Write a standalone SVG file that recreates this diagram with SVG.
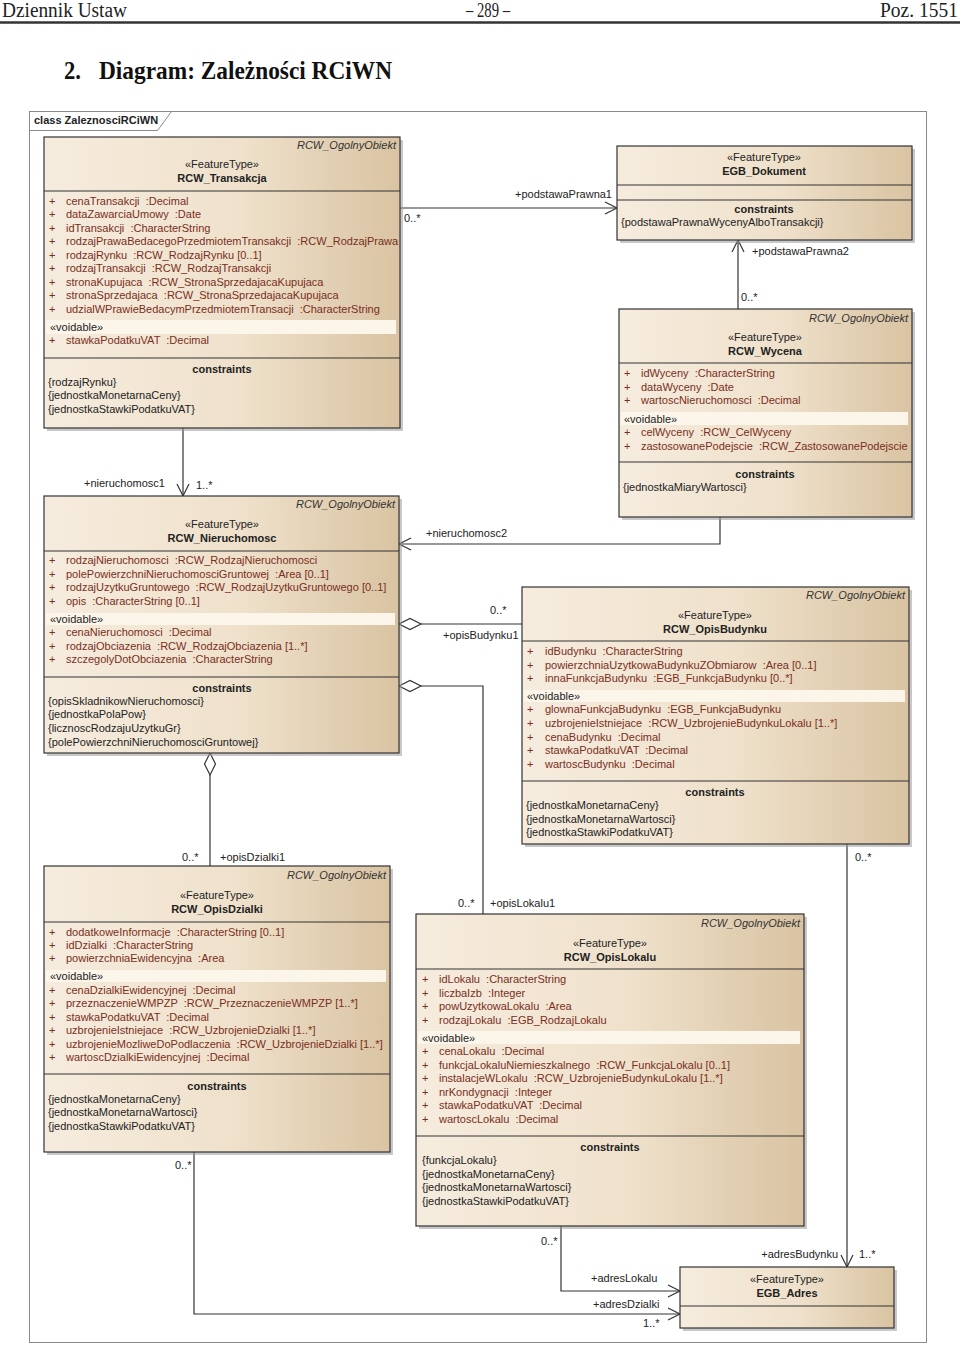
<svg xmlns="http://www.w3.org/2000/svg" width="960" height="1347" viewBox="0 0 960 1347">
<defs>
<linearGradient id="fill" x1="0" y1="0" x2="1" y2="0">
<stop offset="0" stop-color="#F6ECDE"/>
<stop offset="0.55" stop-color="#EFE1CB"/>
<stop offset="1" stop-color="#D9C3A2"/>
</linearGradient>
<style>
text{font-family:"Liberation Sans",Arial,sans-serif;font-size:11px;fill:#222;white-space:pre}
.a{fill:#7a2e22}
.b{font-weight:bold;text-anchor:middle}
.m{text-anchor:middle}
.i{font-style:italic;text-anchor:end;fill:#333}
.hd{font-family:"Liberation Serif","Times New Roman",serif;font-size:20px;fill:#222}
.tt{font-family:"Liberation Serif","Times New Roman",serif;font-size:26px;font-weight:bold;fill:#111}
.box{fill:url(#fill);stroke:#333;stroke-width:1.2}
.sh{fill:#9a9a9a;opacity:.55}
.sep{stroke:#333;stroke-width:1.2}
.vb{fill:#FBF5EA}
.ln{fill:none;stroke:#333;stroke-width:1.2}
.dia{fill:#fff;stroke:#333;stroke-width:1.2}
.fr{fill:none;stroke:#8a8a8a;stroke-width:1}
</style>
</defs>
<rect width="960" height="1347" fill="#fff"/>
<!-- page header -->
<g id="page-header">
<text class="hd" x="2" y="17" textLength="125" lengthAdjust="spacingAndGlyphs">Dziennik Ustaw</text>
<text class="hd" x="466" y="17" textLength="44" lengthAdjust="spacingAndGlyphs">– 289 –</text>
<text class="hd" x="880" y="17" textLength="78" lengthAdjust="spacingAndGlyphs">Poz. 1551</text>
<line x1="0" y1="22.5" x2="960" y2="22.5" stroke="#333" stroke-width="2.5"/>
<text class="tt" x="64" y="79" textLength="17" lengthAdjust="spacingAndGlyphs">2.</text>
<text class="tt" x="99" y="79" textLength="293" lengthAdjust="spacingAndGlyphs">Diagram: Zależności RCiWN</text>
</g>
<!-- frame -->
<g id="frame">
<rect class="fr" x="29.5" y="111.5" width="897" height="1231"/>
<polyline class="fr" points="29.5,130.5 157.5,130.5 171.5,111.5"/>
<text x="34" y="124" font-weight="bold">class ZaleznosciRCiWN</text>
</g>
<!-- connectors -->
<g id="connectors">
<line class="ln" x1="400" y1="208" x2="617" y2="208"/>
<polyline class="ln" points="605,202 617,208 605,214"/>
<text x="612" y="198" text-anchor="end">+podstawaPrawna1</text>
<text x="404" y="222">0..*</text>

<line class="ln" x1="738" y1="309" x2="738" y2="240"/>
<polyline class="ln" points="732,252 738,240 744,252"/>
<text x="752" y="255">+podstawaPrawna2</text>
<text x="741" y="301">0..*</text>

<line class="ln" x1="183" y1="428" x2="183" y2="496"/>
<polyline class="ln" points="177,484 183,496 189,484"/>
<text x="165" y="487" text-anchor="end">+nieruchomosc1</text>
<text x="196" y="489">1..*</text>

<polyline class="ln" points="720,517 720,544 399,544"/>
<polyline class="ln" points="411,538 399,544 411,550"/>
<text x="426" y="537">+nieruchomosc2</text>

<line class="ln" x1="421" y1="624" x2="522" y2="624"/>
<polygon class="dia" points="399,624 410,618.5 421,624 410,629.5"/>
<text x="490" y="614">0..*</text>
<text x="443" y="639">+opisBudynku1</text>

<polyline class="ln" points="421,686 483,686 483,914"/>
<polygon class="dia" points="399,686 410,680.5 421,686 410,691.5"/>
<text x="458" y="907">0..*</text>
<text x="490" y="907">+opisLokalu1</text>

<line class="ln" x1="210" y1="775" x2="210" y2="866"/>
<polygon class="dia" points="210,753 215.5,764 210,775 204.5,764"/>
<text x="182" y="861">0..*</text>
<text x="220" y="861">+opisDzialki1</text>

<polyline class="ln" points="194,1152 194,1314 680,1314"/>
<polyline class="ln" points="668,1308 680,1314 668,1320"/>
<text x="175" y="1169">0..*</text>
<text x="593" y="1308">+adresDzialki</text>
<text x="643" y="1327">1..*</text>

<polyline class="ln" points="561,1226 561,1291 680,1291"/>
<polyline class="ln" points="668,1285 680,1291 668,1297"/>
<text x="541" y="1245">0..*</text>
<text x="591" y="1282">+adresLokalu</text>

<line class="ln" x1="847" y1="844" x2="847" y2="1267"/>
<polyline class="ln" points="841,1255 847,1267 853,1255"/>
<text x="855" y="861">0..*</text>
<text x="838" y="1258" text-anchor="end">+adresBudynku</text>
<text x="859" y="1258">1..*</text>
</g>

<!-- RCW_Transakcja -->
<g id="RCW_Transakcja">
<rect class="sh" x="47" y="140" width="356" height="291"/>
<rect class="box" x="44" y="137" width="356" height="291"/>
<text class="i" x="396" y="149">RCW_OgolnyObiekt</text>
<text class="m" x="222" y="168">«FeatureType»</text>
<text class="b" x="222" y="182">RCW_Transakcja</text>
<line class="sep" x1="44" y1="191" x2="400" y2="191"/>
<text class="a" y="205"><tspan x="49">+</tspan><tspan x="66">cenaTransakcji  :Decimal</tspan></text>
<text class="a" y="218"><tspan x="49">+</tspan><tspan x="66">dataZawarciaUmowy  :Date</tspan></text>
<text class="a" y="232"><tspan x="49">+</tspan><tspan x="66">idTransakcji  :CharacterString</tspan></text>
<text class="a" y="245"><tspan x="49">+</tspan><tspan x="66">rodzajPrawaBedacegoPrzedmiotemTransakcji  :RCW_RodzajPrawa</tspan></text>
<text class="a" y="259"><tspan x="49">+</tspan><tspan x="66">rodzajRynku  :RCW_RodzajRynku [0..1]</tspan></text>
<text class="a" y="272"><tspan x="49">+</tspan><tspan x="66">rodzajTransakcji  :RCW_RodzajTransakcji</tspan></text>
<text class="a" y="286"><tspan x="49">+</tspan><tspan x="66">stronaKupujaca  :RCW_StronaSprzedajacaKupujaca</tspan></text>
<text class="a" y="299"><tspan x="49">+</tspan><tspan x="66">stronaSprzedajaca  :RCW_StronaSprzedajacaKupujaca</tspan></text>
<text class="a" y="313"><tspan x="49">+</tspan><tspan x="66">udzialWPrawieBedacymPrzedmiotemTransacji  :CharacterString</tspan></text>
<rect class="vb" x="46" y="320" width="350" height="14"/>
<text x="50" y="331">«voidable»</text>
<text class="a" y="344"><tspan x="49">+</tspan><tspan x="66">stawkaPodatkuVAT  :Decimal</tspan></text>
<line class="sep" x1="44" y1="358" x2="400" y2="358"/>
<text class="b" x="222" y="373">constraints</text>
<text x="48" y="386">{rodzajRynku}</text>
<text x="48" y="399">{jednostkaMonetarnaCeny}</text>
<text x="48" y="413">{jednostkaStawkiPodatkuVAT}</text>
</g>

<!-- EGB_Dokument -->
<g id="EGB_Dokument">
<rect class="sh" x="620" y="149" width="295" height="94"/>
<rect class="box" x="617" y="146" width="295" height="94"/>
<text class="m" x="764" y="161">«FeatureType»</text>
<text class="b" x="764" y="175">EGB_Dokument</text>
<line class="sep" x1="617" y1="185" x2="912" y2="185"/>
<line class="sep" x1="617" y1="200" x2="912" y2="200"/>
<text class="b" x="764" y="213">constraints</text>
<text x="621" y="226">{podstawaPrawnaWycenyAlboTransakcji}</text>
</g>

<!-- RCW_Wycena -->
<g id="RCW_Wycena">
<rect class="sh" x="622" y="312" width="293" height="208"/>
<rect class="box" x="619" y="309" width="293" height="208"/>
<text class="i" x="908" y="322">RCW_OgolnyObiekt</text>
<text class="m" x="765" y="341">«FeatureType»</text>
<text class="b" x="765" y="355">RCW_Wycena</text>
<line class="sep" x1="619" y1="363" x2="912" y2="363"/>
<text class="a" y="377"><tspan x="624">+</tspan><tspan x="641">idWyceny  :CharacterString</tspan></text>
<text class="a" y="391"><tspan x="624">+</tspan><tspan x="641">dataWyceny  :Date</tspan></text>
<text class="a" y="404"><tspan x="624">+</tspan><tspan x="641">wartoscNieruchomosci  :Decimal</tspan></text>
<rect class="vb" x="621" y="412" width="287" height="13"/>
<text x="624" y="423">«voidable»</text>
<text class="a" y="436"><tspan x="624">+</tspan><tspan x="641">celWyceny  :RCW_CelWyceny</tspan></text>
<text class="a" y="450"><tspan x="624">+</tspan><tspan x="641">zastosowanePodejscie  :RCW_ZastosowanePodejscie</tspan></text>
<line class="sep" x1="619" y1="462" x2="912" y2="462"/>
<text class="b" x="765" y="478">constraints</text>
<text x="623" y="491">{jednostkaMiaryWartosci}</text>
</g>

<!-- RCW_Nieruchomosc -->
<g id="RCW_Nieruchomosc">
<rect class="sh" x="47" y="499" width="355" height="257"/>
<rect class="box" x="44" y="496" width="355" height="257"/>
<text class="i" x="395" y="508">RCW_OgolnyObiekt</text>
<text class="m" x="222" y="528">«FeatureType»</text>
<text class="b" x="222" y="542">RCW_Nieruchomosc</text>
<line class="sep" x1="44" y1="551" x2="399" y2="551"/>
<text class="a" y="564"><tspan x="49">+</tspan><tspan x="66">rodzajNieruchomosci  :RCW_RodzajNieruchomosci</tspan></text>
<text class="a" y="578"><tspan x="49">+</tspan><tspan x="66">polePowierzchniNieruchomosciGruntowej  :Area [0..1]</tspan></text>
<text class="a" y="591"><tspan x="49">+</tspan><tspan x="66">rodzajUzytkuGruntowego  :RCW_RodzajUzytkuGruntowego [0..1]</tspan></text>
<text class="a" y="605"><tspan x="49">+</tspan><tspan x="66">opis  :CharacterString [0..1]</tspan></text>
<rect class="vb" x="46" y="613" width="349" height="12"/>
<text x="50" y="623">«voidable»</text>
<text class="a" y="636"><tspan x="49">+</tspan><tspan x="66">cenaNieruchomosci  :Decimal</tspan></text>
<text class="a" y="650"><tspan x="49">+</tspan><tspan x="66">rodzajObciazenia  :RCW_RodzajObciazenia [1..*]</tspan></text>
<text class="a" y="663"><tspan x="49">+</tspan><tspan x="66">szczegolyDotObciazenia  :CharacterString</tspan></text>
<line class="sep" x1="44" y1="677" x2="399" y2="677"/>
<text class="b" x="222" y="692">constraints</text>
<text x="48" y="705">{opisSkladnikowNieruchomosci}</text>
<text x="48" y="718">{jednostkaPolaPow}</text>
<text x="48" y="732">{licznoscRodzajuUzytkuGr}</text>
<text x="48" y="746">{polePowierzchniNieruchomosciGruntowej}</text>
</g>

<!-- RCW_OpisBudynku -->
<g id="RCW_OpisBudynku">
<rect class="sh" x="525" y="590" width="387" height="257"/>
<rect class="box" x="522" y="587" width="387" height="257"/>
<text class="i" x="905" y="599">RCW_OgolnyObiekt</text>
<text class="m" x="715" y="619">«FeatureType»</text>
<text class="b" x="715" y="633">RCW_OpisBudynku</text>
<line class="sep" x1="522" y1="641" x2="909" y2="641"/>
<text class="a" y="655"><tspan x="527">+</tspan><tspan x="545">idBudynku  :CharacterString</tspan></text>
<text class="a" y="669"><tspan x="527">+</tspan><tspan x="545">powierzchniaUzytkowaBudynkuZObmiarow  :Area [0..1]</tspan></text>
<text class="a" y="682"><tspan x="527">+</tspan><tspan x="545">innaFunkcjaBudynku  :EGB_FunkcjaBudynku [0..*]</tspan></text>
<rect class="vb" x="524" y="690" width="381" height="12"/>
<text x="527" y="700">«voidable»</text>
<text class="a" y="713"><tspan x="527">+</tspan><tspan x="545">glownaFunkcjaBudynku  :EGB_FunkcjaBudynku</tspan></text>
<text class="a" y="727"><tspan x="527">+</tspan><tspan x="545">uzbrojenieIstniejace  :RCW_UzbrojenieBudynkuLokalu [1..*]</tspan></text>
<text class="a" y="741"><tspan x="527">+</tspan><tspan x="545">cenaBudynku  :Decimal</tspan></text>
<text class="a" y="754"><tspan x="527">+</tspan><tspan x="545">stawkaPodatkuVAT  :Decimal</tspan></text>
<text class="a" y="768"><tspan x="527">+</tspan><tspan x="545">wartoscBudynku  :Decimal</tspan></text>
<line class="sep" x1="522" y1="781" x2="909" y2="781"/>
<text class="b" x="715" y="796">constraints</text>
<text x="526" y="809">{jednostkaMonetarnaCeny}</text>
<text x="526" y="823">{jednostkaMonetarnaWartosci}</text>
<text x="526" y="836">{jednostkaStawkiPodatkuVAT}</text>
</g>

<!-- RCW_OpisDzialki -->
<g id="RCW_OpisDzialki">
<rect class="sh" x="47" y="869" width="346" height="286"/>
<rect class="box" x="44" y="866" width="346" height="286"/>
<text class="i" x="386" y="879">RCW_OgolnyObiekt</text>
<text class="m" x="217" y="899">«FeatureType»</text>
<text class="b" x="217" y="913">RCW_OpisDzialki</text>
<line class="sep" x1="44" y1="922" x2="390" y2="922"/>
<text class="a" y="936"><tspan x="49">+</tspan><tspan x="66">dodatkoweInformacje  :CharacterString [0..1]</tspan></text>
<text class="a" y="949"><tspan x="49">+</tspan><tspan x="66">idDzialki  :CharacterString</tspan></text>
<text class="a" y="962"><tspan x="49">+</tspan><tspan x="66">powierzchniaEwidencyjna  :Area</tspan></text>
<rect class="vb" x="46" y="970" width="340" height="12"/>
<text x="50" y="980">«voidable»</text>
<text class="a" y="994"><tspan x="49">+</tspan><tspan x="66">cenaDzialkiEwidencyjnej  :Decimal</tspan></text>
<text class="a" y="1007"><tspan x="49">+</tspan><tspan x="66">przeznaczenieWMPZP  :RCW_PrzeznaczenieWMPZP [1..*]</tspan></text>
<text class="a" y="1021"><tspan x="49">+</tspan><tspan x="66">stawkaPodatkuVAT  :Decimal</tspan></text>
<text class="a" y="1034"><tspan x="49">+</tspan><tspan x="66">uzbrojenieIstniejace  :RCW_UzbrojenieDzialki [1..*]</tspan></text>
<text class="a" y="1048"><tspan x="49">+</tspan><tspan x="66">uzbrojenieMozliweDoPodlaczenia  :RCW_UzbrojenieDzialki [1..*]</tspan></text>
<text class="a" y="1061"><tspan x="49">+</tspan><tspan x="66">wartoscDzialkiEwidencyjnej  :Decimal</tspan></text>
<line class="sep" x1="44" y1="1074" x2="390" y2="1074"/>
<text class="b" x="217" y="1090">constraints</text>
<text x="48" y="1103">{jednostkaMonetarnaCeny}</text>
<text x="48" y="1116">{jednostkaMonetarnaWartosci}</text>
<text x="48" y="1130">{jednostkaStawkiPodatkuVAT}</text>
</g>

<!-- RCW_OpisLokalu -->
<g id="RCW_OpisLokalu">
<rect class="sh" x="419" y="917" width="388" height="312"/>
<rect class="box" x="416" y="914" width="388" height="312"/>
<text class="i" x="800" y="927">RCW_OgolnyObiekt</text>
<text class="m" x="610" y="947">«FeatureType»</text>
<text class="b" x="610" y="961">RCW_OpisLokalu</text>
<line class="sep" x1="416" y1="969" x2="804" y2="969"/>
<text class="a" y="983"><tspan x="422">+</tspan><tspan x="439">idLokalu  :CharacterString</tspan></text>
<text class="a" y="997"><tspan x="422">+</tspan><tspan x="439">liczbaIzb  :Integer</tspan></text>
<text class="a" y="1010"><tspan x="422">+</tspan><tspan x="439">powUzytkowaLokalu  :Area</tspan></text>
<text class="a" y="1024"><tspan x="422">+</tspan><tspan x="439">rodzajLokalu  :EGB_RodzajLokalu</tspan></text>
<rect class="vb" x="418" y="1031" width="382" height="13"/>
<text x="422" y="1042">«voidable»</text>
<text class="a" y="1055"><tspan x="422">+</tspan><tspan x="439">cenaLokalu  :Decimal</tspan></text>
<text class="a" y="1069"><tspan x="422">+</tspan><tspan x="439">funkcjaLokaluNiemieszkalnego  :RCW_FunkcjaLokalu [0..1]</tspan></text>
<text class="a" y="1082"><tspan x="422">+</tspan><tspan x="439">instalacjeWLokalu  :RCW_UzbrojenieBudynkuLokalu [1..*]</tspan></text>
<text class="a" y="1096"><tspan x="422">+</tspan><tspan x="439">nrKondygnacji  :Integer</tspan></text>
<text class="a" y="1109"><tspan x="422">+</tspan><tspan x="439">stawkaPodatkuVAT  :Decimal</tspan></text>
<text class="a" y="1123"><tspan x="422">+</tspan><tspan x="439">wartoscLokalu  :Decimal</tspan></text>
<line class="sep" x1="416" y1="1136" x2="804" y2="1136"/>
<text class="b" x="610" y="1151">constraints</text>
<text x="422" y="1164">{funkcjaLokalu}</text>
<text x="422" y="1178">{jednostkaMonetarnaCeny}</text>
<text x="422" y="1191">{jednostkaMonetarnaWartosci}</text>
<text x="422" y="1205">{jednostkaStawkiPodatkuVAT}</text>
</g>

<!-- EGB_Adres -->
<g id="EGB_Adres">
<rect class="sh" x="683" y="1270" width="214" height="61"/>
<rect class="box" x="680" y="1267" width="214" height="61"/>
<text class="m" x="787" y="1283">«FeatureType»</text>
<text class="b" x="787" y="1297">EGB_Adres</text>
<line class="sep" x1="680" y1="1306" x2="894" y2="1306"/>
</g>
</svg>
